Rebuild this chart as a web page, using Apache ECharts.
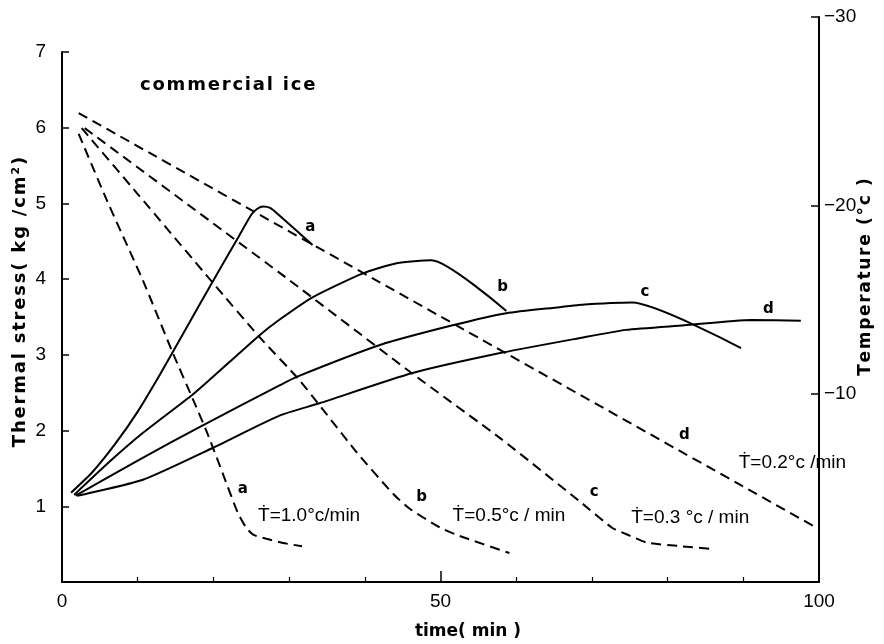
<!DOCTYPE html>
<html><head><meta charset="utf-8">
<script src="https://cdn.jsdelivr.net/npm/echarts@6/dist/echarts.min.js"></script>
<style>html,body{margin:0;padding:0;background:#fff}#c{width:884px;height:644px}</style>
</head><body><div id="c"></div>
<script>
// ---- data (time in min, stress in kg/cm2, temperature in °C) ----
const timeTicks = [0, 50, 100];
const stressTicks = [1, 2, 3, 4, 5, 6, 7];
const tempTicks = [-30, -20, -10];

const stressA = [[1.2,1.18],[4.0,1.45],[7.0,1.82],[10.0,2.25],[13.0,2.75],[16.0,3.28],[19.8,3.95],[23.1,4.52],[25.0,4.85],[25.8,4.93],[26.6,4.96],[27.5,4.94],[28.5,4.86],[33.1,4.45]];
const stressB = [[1.6,1.15],[6.3,1.59],[10.7,1.97],[17.2,2.47],[19.5,2.67],[26.1,3.26],[28.8,3.47],[33.1,3.76],[39.6,4.07],[44.2,4.21],[48.8,4.25],[58.7,3.58]];
const stressC = [[1.8,1.14],[10.3,1.62],[18.6,2.07],[28.8,2.60],[31.0,2.71],[42.0,3.13],[51.6,3.39],[58.7,3.55],[65.7,3.63],[68.3,3.66],[75.3,3.69],[89.7,3.09]];
const stressD = [[2.0,1.14],[3.0,1.16],[10.7,1.35],[19.9,1.77],[28.8,2.20],[34.0,2.36],[46.3,2.76],[58.2,3.03],[68.3,3.22],[74.5,3.33],[82.2,3.39],[91.0,3.46],[97.6,3.45]];

const tempA = [[2.2,-23.8],[6.0,-20.2],[10.7,-16.0],[14.6,-12.2],[17.3,-9.7],[19.1,-8.0],[21.2,-5.8],[23.2,-3.7],[24.3,-2.9],[25.3,-2.5],[27.0,-2.3],[29.2,-2.07],[31.7,-1.9]];
const tempB = [[2.6,-24.1],[10.0,-20.6],[19.9,-15.9],[26.1,-13.0],[31.4,-10.7],[38.9,-6.9],[43.7,-4.7],[45.9,-3.9],[49.9,-2.9],[52.5,-2.45],[59.1,-1.54]];
const tempC = [[3.0,-24.1],[28.8,-16.4],[46.3,-11.06],[58.0,-7.6],[68.3,-4.31],[72.7,-2.87],[74.5,-2.55],[77.2,-2.1],[81.5,-1.91],[85.8,-1.76]];
const tempD = [[2.2,-24.9],[50.0,-14.1],[99.6,-2.9]];

const curveLetters = ['a', 'b', 'c', 'd'];
const rateLabels = ['\u1E6A=1.0\u00B0c/min', '\u1E6A=0.5\u00B0c / min', '\u1E6A=0.3 \u00B0c / min', '\u1E6A=0.2\u00B0c /min'];
// annotation anchors in (time, stress) data coordinates
const solidLetterAt = [[32.8,4.69],[58.2,3.90],[77.0,3.83],[93.3,3.61]];
const dashLetterAt = [[23.9,1.23],[47.5,1.12],[70.3,1.19],[82.2,1.94]];
const rateLabelAt = [[25.9,0.87],[51.6,0.87],[75.2,0.85],[89.4,1.57]];

const titleText = 'commercial ice';
const xName = 'time( min )';
const yName = 'Thermal stress( kg /cm\u00B2)';
const y2Name = 'Temperature (\u00B0c )';

// ---- chart ----
const chart = echarts.init(document.getElementById('c'), null, {renderer: 'canvas'});
const black = '#000';
const axisFont = {color: black, fontSize: 19, fontFamily: 'Liberation Sans'};

const solidStyle = {color: black, width: 2};
const dashStyle = {color: black, width: 2, type: [10, 6]};

function solid(name, data) {
  return {name, type: 'line', xAxisIndex: 0, yAxisIndex: 0, data, showSymbol: false, symbol: 'none',
    smooth: 0.2,
    lineStyle: solidStyle, itemStyle: {color: black}, z: 3};
}
function dashed(name, data) {
  return {name, type: 'line', xAxisIndex: 1, yAxisIndex: 1, data, showSymbol: false, symbol: 'none',
    smooth: 0.2,
    lineStyle: dashStyle, itemStyle: {color: black}, z: 2};
}

chart.setOption({
  animation: false,
  backgroundColor: '#fff',
  grid: [
    {left: 62, right: 65, top: 52, bottom: 62},
    {left: 62, right: 65, top: 17, bottom: 62}
  ],
  xAxis: [
    {gridIndex: 0, type: 'value', min: timeTicks[0], max: timeTicks[timeTicks.length - 1], interval: timeTicks[1] - timeTicks[0],
      axisLine: {show: true, onZero: false, lineStyle: {color: black, width: 2}},
      axisTick: {show: true, inside: true, length: 11, lineStyle: {color: black, width: 1.5}},
      minorTick: {show: true, splitNumber: 5, length: 5, lineStyle: {color: black, width: 1.2}},
      axisLabel: Object.assign({margin: 10}, axisFont),
      splitLine: {show: false}},
    {gridIndex: 1, type: 'value', min: timeTicks[0], max: timeTicks[timeTicks.length - 1], show: false}
  ],
  yAxis: [
    {gridIndex: 0, type: 'value', position: 'left', min: 0, max: stressTicks[stressTicks.length - 1], interval: 1,
      axisLine: {show: true, onZero: false, lineStyle: {color: black, width: 2}},
      axisTick: {show: true, inside: true, length: 7, lineStyle: {color: black, width: 1.5}},
      axisLabel: Object.assign({margin: 16, showMinLabel: false}, axisFont),
      splitLine: {show: false}},
    {gridIndex: 1, type: 'value', position: 'right', min: tempTicks[0], max: 0, interval: 10, inverse: true,
      axisLine: {show: true, onZero: false, lineStyle: {color: black, width: 2}},
      axisTick: {show: true, inside: true, length: 8, lineStyle: {color: black, width: 1.5}},
      axisLabel: Object.assign({margin: 5, formatter: v => (tempTicks.indexOf(v) >= 0 ? '\u2212' + Math.abs(v) : '')}, axisFont),
      splitLine: {show: false}}
  ],
  series: [
    solid('a', stressA), solid('b', stressB), solid('c', stressC), solid('d', stressD),
    dashed('Ta', tempA), dashed('Tb', tempB), dashed('Tc', tempC), dashed('Td', tempD)
  ]
});

// ---- annotations ----
const g = [];
const px = p => chart.convertToPixel({gridIndex: 0}, p);
const boldFont = 'bold 15px "DejaVu Sans"';
curveLetters.forEach((l, i) => {
  const p1 = px(solidLetterAt[i]);
  g.push({type: 'text', x: p1[0], y: p1[1], style: {text: l, font: boldFont, fill: black, align: 'center', verticalAlign: 'middle'}});
  const p2 = px(dashLetterAt[i]);
  g.push({type: 'text', x: p2[0], y: p2[1], style: {text: l, font: boldFont, fill: black, align: 'center', verticalAlign: 'middle'}});
  const p3 = px(rateLabelAt[i]);
  g.push({type: 'text', x: p3[0], y: p3[1], style: {text: rateLabels[i], font: '19px "Liberation Sans"', fill: black, align: 'left', verticalAlign: 'middle'}});
});
g.push({type: 'text', x: 140, y: 85, style: {text: titleText.split('').join('\u200A'), font: 'bold 18px "DejaVu Sans"', fill: black, align: 'left', verticalAlign: 'middle'}});
g.push({type: 'text', x: 468, y: 632, style: {text: xName, font: 'bold 17px "DejaVu Sans"', fill: black, align: 'center', verticalAlign: 'middle'}});
g.push({type: 'text', x: 20, y: 302, rotation: Math.PI / 2, style: {text: yName.split('').join('\u200A'), font: 'bold 18px "DejaVu Sans"', fill: black, align: 'center', verticalAlign: 'middle'}});
g.push({type: 'text', x: 866, y: 277, rotation: Math.PI / 2, style: {text: y2Name.split('').join('\u200A'), font: 'bold 17px "DejaVu Sans"', fill: black, align: 'center', verticalAlign: 'middle'}});
chart.setOption({graphic: g});
</script>
</body></html>
